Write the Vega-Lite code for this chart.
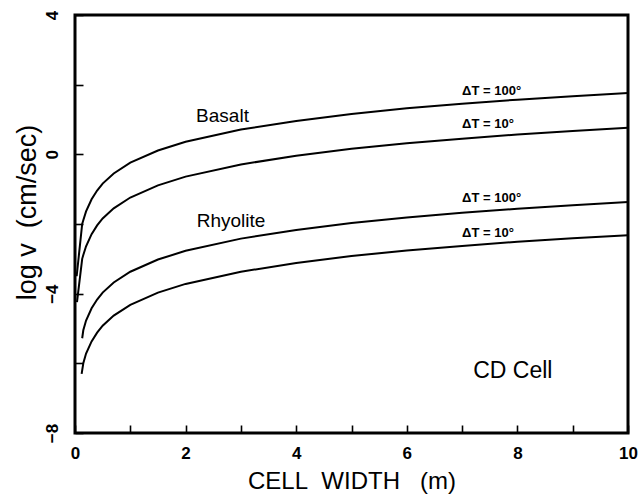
{
  "$schema": "https://vega.github.io/schema/vega-lite/v6.json",
  "width": 553,
  "height": 418,
  "autosize": "none",
  "padding": {"left": 75, "top": 15, "right": 12, "bottom": 68},
  "background": "white",
  "config": {
    "view": {"stroke": "black", "strokeWidth": 3},
    "font": "Liberation Sans"
  },
  "datasets": {
    "curves": [
      {"series": "Basalt 100", "width": 0.03, "logv": -3.5},
      {"series": "Basalt 100", "width": 0.13, "logv": -2.0},
      {"series": "Basalt 100", "width": 0.15, "logv": -1.89},
      {"series": "Basalt 100", "width": 0.2, "logv": -1.64},
      {"series": "Basalt 100", "width": 0.3, "logv": -1.29},
      {"series": "Basalt 100", "width": 0.4, "logv": -1.04},
      {"series": "Basalt 100", "width": 0.5, "logv": -0.84},
      {"series": "Basalt 100", "width": 0.7, "logv": -0.55},
      {"series": "Basalt 100", "width": 1, "logv": -0.24},
      {"series": "Basalt 100", "width": 1.5, "logv": 0.11},
      {"series": "Basalt 100", "width": 2, "logv": 0.36},
      {"series": "Basalt 100", "width": 3, "logv": 0.71},
      {"series": "Basalt 100", "width": 4, "logv": 0.96},
      {"series": "Basalt 100", "width": 5, "logv": 1.16},
      {"series": "Basalt 100", "width": 6, "logv": 1.32},
      {"series": "Basalt 100", "width": 7, "logv": 1.45},
      {"series": "Basalt 100", "width": 8, "logv": 1.57},
      {"series": "Basalt 100", "width": 9, "logv": 1.67},
      {"series": "Basalt 100", "width": 10, "logv": 1.76},
      {"series": "Basalt 10", "width": 0.036, "logv": -4.24},
      {"series": "Basalt 10", "width": 0.13, "logv": -3.0},
      {"series": "Basalt 10", "width": 0.15, "logv": -2.89},
      {"series": "Basalt 10", "width": 0.2, "logv": -2.64},
      {"series": "Basalt 10", "width": 0.3, "logv": -2.29},
      {"series": "Basalt 10", "width": 0.4, "logv": -2.04},
      {"series": "Basalt 10", "width": 0.5, "logv": -1.84},
      {"series": "Basalt 10", "width": 0.7, "logv": -1.55},
      {"series": "Basalt 10", "width": 1, "logv": -1.24},
      {"series": "Basalt 10", "width": 1.5, "logv": -0.89},
      {"series": "Basalt 10", "width": 2, "logv": -0.64},
      {"series": "Basalt 10", "width": 3, "logv": -0.29},
      {"series": "Basalt 10", "width": 4, "logv": -0.04},
      {"series": "Basalt 10", "width": 5, "logv": 0.16},
      {"series": "Basalt 10", "width": 6, "logv": 0.32},
      {"series": "Basalt 10", "width": 7, "logv": 0.45},
      {"series": "Basalt 10", "width": 8, "logv": 0.57},
      {"series": "Basalt 10", "width": 9, "logv": 0.67},
      {"series": "Basalt 10", "width": 10, "logv": 0.76},
      {"series": "Rhyolite 100", "width": 0.13, "logv": -5.28},
      {"series": "Rhyolite 100", "width": 0.15, "logv": -5.05},
      {"series": "Rhyolite 100", "width": 0.2, "logv": -4.77},
      {"series": "Rhyolite 100", "width": 0.3, "logv": -4.42},
      {"series": "Rhyolite 100", "width": 0.4, "logv": -4.17},
      {"series": "Rhyolite 100", "width": 0.5, "logv": -3.97},
      {"series": "Rhyolite 100", "width": 0.7, "logv": -3.68},
      {"series": "Rhyolite 100", "width": 1, "logv": -3.37},
      {"series": "Rhyolite 100", "width": 1.5, "logv": -3.02},
      {"series": "Rhyolite 100", "width": 2, "logv": -2.77},
      {"series": "Rhyolite 100", "width": 3, "logv": -2.42},
      {"series": "Rhyolite 100", "width": 4, "logv": -2.17},
      {"series": "Rhyolite 100", "width": 5, "logv": -1.97},
      {"series": "Rhyolite 100", "width": 6, "logv": -1.81},
      {"series": "Rhyolite 100", "width": 7, "logv": -1.68},
      {"series": "Rhyolite 100", "width": 8, "logv": -1.56},
      {"series": "Rhyolite 100", "width": 9, "logv": -1.46},
      {"series": "Rhyolite 100", "width": 10, "logv": -1.37},
      {"series": "Rhyolite 10", "width": 0.12, "logv": -6.3},
      {"series": "Rhyolite 10", "width": 0.15, "logv": -6.0},
      {"series": "Rhyolite 10", "width": 0.2, "logv": -5.72},
      {"series": "Rhyolite 10", "width": 0.3, "logv": -5.37},
      {"series": "Rhyolite 10", "width": 0.4, "logv": -5.12},
      {"series": "Rhyolite 10", "width": 0.5, "logv": -4.92},
      {"series": "Rhyolite 10", "width": 0.7, "logv": -4.63},
      {"series": "Rhyolite 10", "width": 1, "logv": -4.32},
      {"series": "Rhyolite 10", "width": 1.5, "logv": -3.97},
      {"series": "Rhyolite 10", "width": 2, "logv": -3.72},
      {"series": "Rhyolite 10", "width": 3, "logv": -3.37},
      {"series": "Rhyolite 10", "width": 4, "logv": -3.12},
      {"series": "Rhyolite 10", "width": 5, "logv": -2.92},
      {"series": "Rhyolite 10", "width": 6, "logv": -2.76},
      {"series": "Rhyolite 10", "width": 7, "logv": -2.63},
      {"series": "Rhyolite 10", "width": 8, "logv": -2.51},
      {"series": "Rhyolite 10", "width": 9, "logv": -2.41},
      {"series": "Rhyolite 10", "width": 10, "logv": -2.32}
    ],
    "names": [
      {"width": 2.19, "logv": 0.93, "label": "Basalt"},
      {"width": 2.2, "logv": -2.09, "label": "Rhyolite"}
    ],
    "dt": [
      {"width": 7.0, "logv": 1.7, "label": "ΔT = 100°"},
      {"width": 7.0, "logv": 0.76, "label": "ΔT = 10°"},
      {"width": 7.0, "logv": -1.37, "label": "ΔT = 100°"},
      {"width": 7.0, "logv": -2.37, "label": "ΔT = 10°"}
    ],
    "cell": [
      {"width": 7.2, "logv": -6.42, "label": "CD Cell"}
    ]
  },
  "layer": [
    {
      "data": {"name": "curves"},
      "mark": {"type": "line", "color": "black", "strokeWidth": 2},
      "encoding": {
        "x": {"field": "width", "type": "quantitative", "scale": {"domain": [0, 10], "nice": false, "zero": false},
          "axis": {"orient": "bottom", "values": [0, 1, 2, 3, 4, 5, 6, 7, 8, 9, 10], "labelExpr": "datum.value % 2 === 0 ? datum.label : ''", "domain": false, "grid": false, "ticks": true, "zindex": 1, "tickColor": "black", "tickWidth": 1.6, "offset": -8, "tickSize": 8, "labelPadding": 12, "labelFontSize": 17, "labelFontWeight": "bold", "labelColor": "black", "labelBaseline": "top", "labelAlign": "center",
            "title": "CELL\u00a0\u00a0WIDTH\u00a0\u00a0\u00a0(m)", "titleColor": "black", "titleFontSize": 24, "titleFontWeight": "normal", "titleX": 276.5, "titleY": 63, "titleBaseline": "alphabetic", "titleAlign": "center"}},
        "y": {"field": "logv", "type": "quantitative", "scale": {"domain": [-8, 4], "nice": false, "zero": false},
          "axis": {"orient": "left", "values": [-8, -7, -6, -5, -4, -3, -2, -1, 0, 1, 2, 3, 4], "labelExpr": "datum.value % 4 === 0 ? datum.label : ''", "domain": false, "grid": false, "ticks": true, "zindex": 1, "tickColor": "black", "tickWidth": 1.6, "offset": -8, "tickSize": 8, "labelPadding": 18, "labelAngle": -90, "labelAlign": "center", "labelBaseline": "alphabetic", "labelFontSize": 17, "labelFontWeight": "bold", "labelColor": "black",
            "title": "log v\u00a0\u00a0(cm/sec)", "titleColor": "black", "titleFontSize": 27, "titleFontWeight": "normal", "titleAngle": -90, "titleX": -42, "titleY": 197, "titleBaseline": "bottom", "titleAlign": "center"}},
        "detail": {"field": "series", "type": "nominal"}
      }
    },
    {
      "data": {"name": "names"},
      "mark": {"type": "text", "align": "left", "baseline": "alphabetic", "fontSize": 19, "color": "black"},
      "encoding": {
        "x": {"field": "width", "type": "quantitative", "scale": {"domain": [0, 10], "nice": false, "zero": false}},
        "y": {"field": "logv", "type": "quantitative", "scale": {"domain": [-8, 4], "nice": false, "zero": false}},
        "text": {"field": "label", "type": "nominal"}
      }
    },
    {
      "data": {"name": "dt"},
      "mark": {"type": "text", "align": "left", "baseline": "alphabetic", "fontSize": 13, "fontWeight": "bold", "color": "black"},
      "encoding": {
        "x": {"field": "width", "type": "quantitative", "scale": {"domain": [0, 10], "nice": false, "zero": false}},
        "y": {"field": "logv", "type": "quantitative", "scale": {"domain": [-8, 4], "nice": false, "zero": false}},
        "text": {"field": "label", "type": "nominal"}
      }
    },
    {
      "data": {"name": "cell"},
      "mark": {"type": "text", "align": "left", "baseline": "alphabetic", "fontSize": 23, "color": "black"},
      "encoding": {
        "x": {"field": "width", "type": "quantitative", "scale": {"domain": [0, 10], "nice": false, "zero": false}},
        "y": {"field": "logv", "type": "quantitative", "scale": {"domain": [-8, 4], "nice": false, "zero": false}},
        "text": {"field": "label", "type": "nominal"}
      }
    }
  ]
}
